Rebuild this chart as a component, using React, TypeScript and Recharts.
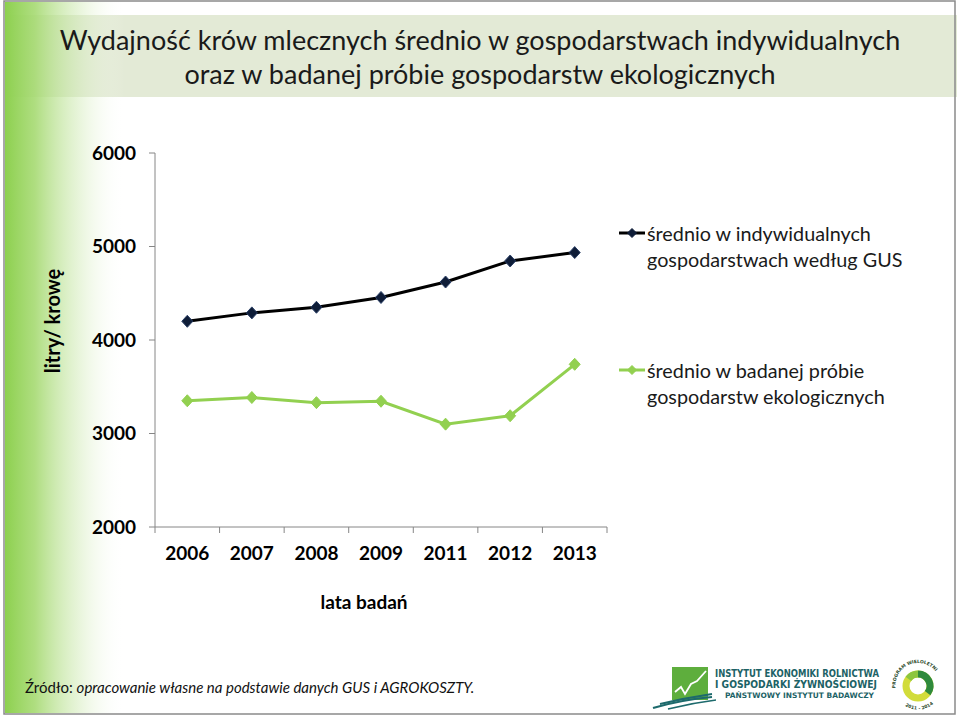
import React from 'react';
import { LineChart, Line, XAxis, YAxis, Legend } from 'recharts';

const years = ['2006', '2007', '2008', '2009', '2011', '2012', '2013'];
const gusValues = [4200, 4290, 4350, 4455, 4620, 4845, 4935];
const ecoValues = [3350, 3385, 3330, 3345, 3100, 3190, 3740];
const yTicks = [2000, 3000, 4000, 5000, 6000];
const gusLegend = ['średnio w indywidualnych', 'gospodarstwach według GUS'];
const ecoLegend = ['średnio w badanej próbie', 'gospodarstw ekologicznych'];
const titleLines = [
  'Wydajność krów mlecznych średnio w gospodarstwach indywidualnych',
  'oraz w badanej próbie gospodarstw ekologicznych',
];

const data = years.map((year, i) => ({ year, gus: gusValues[i], eco: ecoValues[i] }));

const FONT = 'Lato, "Open Sans", sans-serif';
const W = 960;
const H = 717;
const MARGIN = { top: 153, right: 353, bottom: 130, left: 95 };
const Y_AXIS_W = 60;
const X_AXIS_H = 60;
const PLOT_W = W - MARGIN.left - MARGIN.right - Y_AXIS_W;
const AXIS_COLOR = '#868686';
const GUS_COLOR = '#000000';
const GUS_MARK = '#0f1d38';
const ECO_COLOR = '#92d050';

const makeDiamond = (fill: string, stroke: string) => (props: any) => {
  const { cx, cy, index } = props;
  if (cx == null || cy == null) return <g key={index} />;
  return (
    <polygon
      key={index}
      points={`${cx},${cy - 6} ${cx + 5.5},${cy} ${cx},${cy + 6} ${cx - 5.5},${cy}`}
      fill={fill}
      stroke={stroke}
      strokeWidth={1}
    />
  );
};

const XTick = (props: any) => {
  const { x, y, payload, index, visibleTicksCount } = props;
  const count = visibleTicksCount || years.length;
  const half = PLOT_W / count / 2;
  const axisY = y - 5;
  return (
    <g>
      <line x1={x - half} x2={x - half} y1={axisY} y2={axisY + 6} stroke={AXIS_COLOR} strokeWidth={1} />
      {index === count - 1 && (
        <line x1={x + half} x2={x + half} y1={axisY} y2={axisY + 6} stroke={AXIS_COLOR} strokeWidth={1} />
      )}
      <text x={x} y={axisY + 33} textAnchor="middle" fontFamily={FONT} fontWeight={700} fontSize={19} fill="#000">
        {payload.value}
      </text>
    </g>
  );
};

const LegendSample = ({ color, mark }: { color: string; mark: string }) => (
  <svg width={30} height={26} style={{ display: 'block', flex: 'none' }}>
    <line x1={2} x2={28} y1={13} y2={13} stroke={color} strokeWidth={3} />
    <polygon points="15,8.5 19.5,13 15,17.5 10.5,13" fill={mark} stroke={mark} />
  </svg>
);

const renderLegend = () => {
  const entries = [
    { lines: gusLegend, color: GUS_COLOR, mark: GUS_MARK },
    { lines: ecoLegend, color: ECO_COLOR, mark: ECO_COLOR },
  ];
  return (
    <div style={{ fontFamily: FONT, fontSize: 19.8, color: '#1a1a1a', lineHeight: '26px' }}>
      {entries.map((e, i) => (
        <div key={i} style={{ display: 'flex', alignItems: 'flex-start', marginTop: i === 0 ? 0 : 85 }}>
          <LegendSample color={e.color} mark={e.mark} />
          <div>
            {e.lines.map((l, j) => (
              <div key={j} style={{ whiteSpace: 'nowrap' }}>{l}</div>
            ))}
          </div>
        </div>
      ))}
    </div>
  );
};

const Decor = () => (
  <svg width={W} height={H} style={{ position: 'absolute', left: 0, top: 0 }}>
    <defs>
      <linearGradient id="strip" x1="0" x2="1" y1="0" y2="0">
        <stop offset="0" stopColor="#8dd04f" stopOpacity={1} />
        <stop offset="0.25" stopColor="#a6da72" stopOpacity={0.9} />
        <stop offset="0.6" stopColor="#cde9b0" stopOpacity={0.5} />
        <stop offset="1" stopColor="#ffffff" stopOpacity={0} />
      </linearGradient>
      <path id="arcTop" d="M897.2,694 A22.5,22.5 0 1 1 938.8,694" />
      <path id="arcBot" d="M900,701 A23,23 0 0 0 936,701" />
    </defs>
    <rect x={0} y={0} width={W} height={H} fill="#ffffff" />
    <rect x={5} y={15} width={952} height={82} fill="#e3ead6" />
    <rect x={5} y={2} width={120} height={711} fill="url(#strip)" />
    <rect x={4} y={1} width={951} height={713} fill="none" stroke="#8a8a8a" strokeWidth={1.5} />
    {/* IERiGŻ logo */}
    <rect x={672} y={667} width={36} height={33} fill="#5eae3d" />
    <polyline points="675,692 681,687 685,694 691,684 697,681 706,671" fill="none" stroke="#ffffff" strokeWidth={1.8} />
    <path d="M653,708 Q680,700 712,697" fill="none" stroke="#1d6a6c" strokeWidth={2.2} />
    <path d="M660,704 Q685,698 712,694" fill="none" stroke="#1d6a6c" strokeWidth={1.8} />
    <path d="M668,709 Q692,703 716,700" fill="none" stroke="#1d6a6c" strokeWidth={1.6} />
    <text x={715} y={677} fontFamily='"DejaVu Sans", sans-serif' fontWeight={700} fontSize={10.5} fill="#1c6266" textLength={164} lengthAdjust="spacingAndGlyphs">
      INSTYTUT EKONOMIKI ROLNICTWA
    </text>
    <text x={715} y={688} fontFamily='"DejaVu Sans", sans-serif' fontWeight={700} fontSize={10.5} fill="#1c6266" textLength={162} lengthAdjust="spacingAndGlyphs">
      I GOSPODARKI ŻYWNOŚCIOWEJ
    </text>
    <text x={725} y={698} fontFamily='"DejaVu Sans", sans-serif' fontWeight={700} fontSize={7.5} fill="#1c6266" textLength={149} lengthAdjust="spacingAndGlyphs">
      PAŃSTWOWY INSTYTUT BADAWCZY
    </text>
    {/* Program wieloletni logo */}
    <circle cx={918} cy={686} r={12} fill="none" stroke="#d2dc3a" strokeWidth={7} />
    <path d="M918,674 A12,12 0 0 1 927.6,693.2" fill="none" stroke="#2f8a3c" strokeWidth={7} />
    <path d="M908.4,678.8 A12,12 0 0 1 918,674" fill="none" stroke="#8cc63f" strokeWidth={7} />
    <text fontFamily='"DejaVu Sans", sans-serif' fontWeight={700} fontSize={4.5} fill="#2b4a2b">
      <textPath href="#arcTop" startOffset="6">PROGRAM WIELOLETNI</textPath>
    </text>
    <text fontFamily='"DejaVu Sans", sans-serif' fontWeight={700} fontSize={4.5} fill="#2b4a2b">
      <textPath href="#arcBot" startOffset="7">2011 - 2014</textPath>
    </text>
  </svg>
);

export default function App() {
  return (
    <div style={{ position: 'absolute', left: 0, top: 0, width: W, height: H, overflow: 'hidden', background: '#fff' }}>
      <Decor />
      {titleLines.map((t, i) => (
        <div
          key={i}
          style={{
            position: 'absolute',
            left: 0,
            width: W,
            top: 23 + i * 34,
            height: 34,
            lineHeight: '34px',
            textAlign: 'center',
            fontFamily: FONT,
            fontSize: 27,
            color: '#1a1a1a',
            whiteSpace: 'nowrap',
          }}
        >
          {t}
        </div>
      ))}
      <div
        style={{
          position: 'absolute',
          left: 25,
          top: 677,
          fontFamily: FONT,
          fontSize: 15,
          color: '#111',
          whiteSpace: 'nowrap',
          lineHeight: '20px',
        }}
      >
        Źródło: <i>opracowanie własne na podstawie danych GUS i AGROKOSZTY.</i>
      </div>
      <div style={{ position: 'absolute', left: 0, top: 0 }}>
        <LineChart width={W} height={H} data={data} margin={MARGIN}>
          <XAxis
            dataKey="year"
            scale="band"
            height={X_AXIS_H}
            axisLine={{ stroke: AXIS_COLOR, strokeWidth: 1 }}
            tickLine={false}
            tickSize={5}
            tickMargin={0}
            interval={0}
            tick={<XTick />}
            label={{
              content: (p: any) => {
                const vb = p.viewBox || {};
                return (
                  <text
                    x={vb.x + vb.width / 2 - 17}
                    y={vb.y + 82}
                    textAnchor="middle"
                    fontFamily={FONT}
                    fontWeight={700}
                    fontSize={19}
                    fill="#000"
                  >
                    lata badań
                  </text>
                );
              },
            }}
          />
          <YAxis
            width={Y_AXIS_W}
            domain={[2000, 6000]}
            ticks={yTicks}
            interval={0}
            axisLine={{ stroke: AXIS_COLOR, strokeWidth: 1 }}
            tickLine={{ stroke: AXIS_COLOR, strokeWidth: 1 }}
            tickSize={6}
            tickMargin={13}
            tick={{ fontFamily: FONT, fontWeight: 700, fontSize: 19, fill: '#000' }}
            label={{
              content: (p: any) => {
                const vb = p.viewBox || {};
                const cx = vb.x - 43;
                const cy = vb.y + vb.height / 2 - 19;
                return (
                  <text
                    transform={`translate(${cx},${cy}) rotate(-90)`}
                    textAnchor="middle"
                    dominantBaseline="central"
                    fontFamily={FONT}
                    fontWeight={700}
                    fontSize={20}
                    fill="#000"
                  >
                    litry/ krowę
                  </text>
                );
              },
            }}
          />
          <Legend
            layout="horizontal"
            verticalAlign="middle"
            align="center"
            content={renderLegend}
            wrapperStyle={{ left: 617, top: 220, width: 330 }}
          />
          <Line
            type="linear"
            dataKey="gus"
            name={gusLegend.join(' ')}
            stroke={GUS_COLOR}
            strokeWidth={3}
            dot={makeDiamond(GUS_MARK, '#2a3f66')}
            activeDot={false}
            isAnimationActive={false}
          />
          <Line
            type="linear"
            dataKey="eco"
            name={ecoLegend.join(' ')}
            stroke={ECO_COLOR}
            strokeWidth={3}
            dot={makeDiamond(ECO_COLOR, ECO_COLOR)}
            activeDot={false}
            isAnimationActive={false}
          />
        </LineChart>
      </div>
    </div>
  );
}
